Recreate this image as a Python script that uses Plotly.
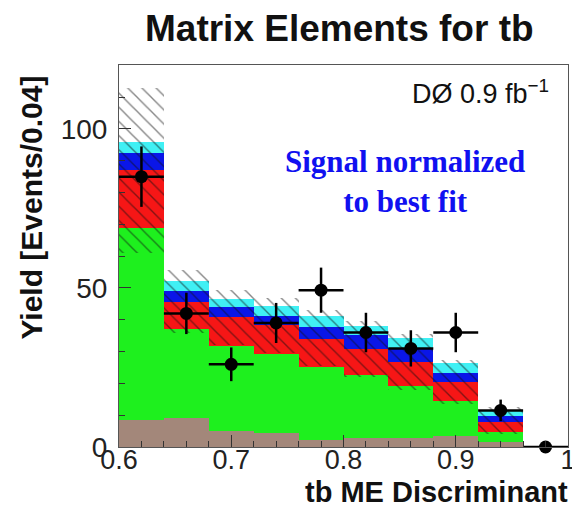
import plotly.graph_objects as go

# ---- data ----
bin_lo_edges = [0.60, 0.64, 0.68, 0.72, 0.76, 0.80, 0.84, 0.88, 0.92, 0.96]
bin_width = 0.04
bin_centers = [e + bin_width / 2 for e in bin_lo_edges]

# stacked components (events per bin), bottom to top
other_bkg = [8.5, 9.1, 4.9, 4.3, 2.2, 2.7, 2.9, 3.6, 1.5, 0.0]      # brown
wjets = [60.5, 27.9, 26.9, 25.0, 22.9, 19.8, 16.2, 11.0, 3.3, 0.0]   # green
ttbar = [18.2, 8.7, 9.2, 9.1, 9.0, 8.3, 7.6, 5.8, 3.2, 0.0]          # red
tqb = [5.2, 3.5, 3.0, 2.8, 3.5, 4.5, 4.4, 2.8, 1.6, 0.0]             # blue
tb = [3.6, 2.9, 2.5, 3.1, 3.6, 2.7, 3.2, 3.3, 2.0, 0.0]              # cyan

# uncertainty band (hatched)
band_low = [61.0, 36.0, 32.0, 29.5, 25.5, 22.0, 18.0, 13.5, 4.0, 0.0]
band_high = [113.0, 55.5, 49.5, 47.0, 43.0, 39.5, 35.5, 27.5, 12.5, 0.0]

# observed data
data_y = [85.0, 42.0, 26.0, 39.0, 49.3, 36.0, 31.0, 36.0, 11.5, 0.0]
data_err = [9.5, 6.5, 5.3, 6.3, 7.1, 6.2, 5.7, 6.2, 3.4, 0.0]

x_ticks = [0.6, 0.7, 0.8, 0.9, 1.0]
x_ticktext = ["0.6", "0.7", "0.8", "0.9", "1"]
y_ticks = [0, 50, 100]
y_ticktext = ["0", "50", "100"]

components = [
    ("other", other_bkg, "#a3877a"),
    ("W+jets", wjets, "#1ef01e"),
    ("ttbar", ttbar, "#f61616"),
    ("tqb", tqb, "#0a16e8"),
    ("tb", tb, "#40f0f4"),
]

fig = go.Figure()
base = [0.0] * len(bin_centers)
for name, vals, col in components:
    fig.add_trace(go.Bar(
        x=bin_centers, y=vals, base=list(base), width=bin_width,
        marker=dict(color=col, line=dict(width=0)),
        name=name, showlegend=False, hoverinfo="skip",
    ))
    base = [b + v for b, v in zip(base, vals)]

# hatched uncertainty band
fig.add_trace(go.Bar(
    x=bin_centers,
    y=[h - l for h, l in zip(band_high, band_low)],
    base=band_low, width=bin_width,
    marker=dict(
        color="rgba(0,0,0,0)", line=dict(width=0),
        pattern=dict(shape="\\", fgcolor="#101010", bgcolor="rgba(0,0,0,0)",
                     size=10, solidity=0.14),
    ),
    showlegend=False, hoverinfo="skip",
))

# data points
fig.add_trace(go.Scatter(
    x=bin_centers, y=data_y, mode="markers",
    marker=dict(size=13, color="black"),
    error_y=dict(type="data", array=data_err, thickness=2.5, width=0, color="black"),
    error_x=dict(type="constant", value=bin_width / 2, thickness=2.5, width=0, color="black"),
    cliponaxis=False, showlegend=False,
))

font_sans = "Liberation Sans, Arial, Helvetica, sans-serif"

fig.update_layout(
    width=580, height=509,
    margin=dict(l=111, r=13, t=57, b=70),
    paper_bgcolor="white", plot_bgcolor="white",
    barmode="overlay", bargap=0,
    font=dict(family=font_sans, color="#1a1a1a"),
    xaxis=dict(
        range=[0.6, 1.0], tickmode="array", tickvals=x_ticks, ticktext=x_ticktext,
        ticks="inside", ticklen=12, tickwidth=1, tickcolor="#333",
        minor=dict(dtick=0.02, tick0=0.6, ticks="inside", ticklen=6, tickcolor="#333"),
        showline=True, linecolor="#555", linewidth=1, mirror=True,
        showgrid=False, zeroline=False, ticklabelstandoff=-11,
        tickfont=dict(size=27, family=font_sans, color="#222"),
    ),
    yaxis=dict(
        range=[0, 120.1], tickmode="array", tickvals=y_ticks, ticktext=y_ticktext,
        ticks="inside", ticklen=12, tickwidth=1, tickcolor="#333",
        minor=dict(dtick=10, tick0=0, ticks="inside", ticklen=6, tickcolor="#333"),
        showline=True, linecolor="#555", linewidth=1, mirror=True,
        showgrid=False, zeroline=False, ticklabelstandoff=5,
        tickfont=dict(size=28, family=font_sans, color="#222"),
    ),
    annotations=[
        dict(text="<b>Matrix Elements for tb</b>", xref="paper", yref="paper",
             x=0.492, y=1.096, xanchor="center", yanchor="middle", showarrow=False,
             font=dict(size=37, family=font_sans, color="#111")),
        dict(text="<b>tb ME Discriminant</b>", xref="paper", yref="paper",
             x=1.005, y=-0.119, xanchor="right", yanchor="middle", showarrow=False,
             font=dict(size=29, family=font_sans, color="#111")),
        dict(text="<b>Yield [Events/0.04]</b>", xref="paper", yref="paper",
             x=-0.195, y=0.628, xanchor="center", yanchor="middle", textangle=-90,
             showarrow=False, font=dict(size=30, family=font_sans, color="#111")),
        dict(text="DØ 0.9 fb<sup>−1</sup>", xref="paper", yref="paper",
             x=0.962, y=0.93, xanchor="right", yanchor="middle", showarrow=False,
             font=dict(size=27, family=font_sans, color="#111")),
        dict(text="<b>Signal normalized<br>to best fit</b>", xref="paper", yref="paper",
             x=0.638, y=0.694, xanchor="center", yanchor="middle", showarrow=False,
             align="center",
             font=dict(size=31, family="Liberation Serif, Times New Roman, serif",
                       color="#1010f0")),
    ],
)

fig.write_html("out.html")
